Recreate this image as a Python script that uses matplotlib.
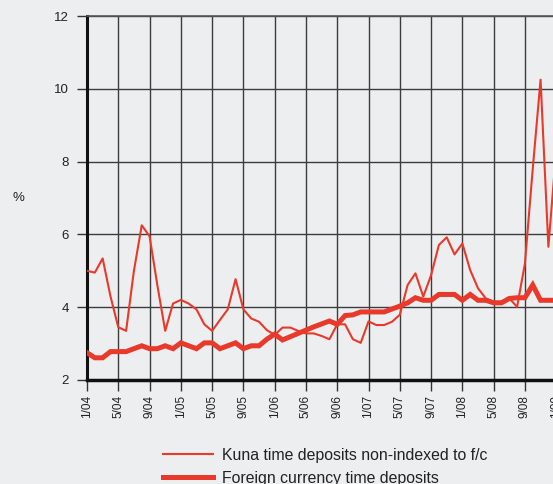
import matplotlib
matplotlib.use("Agg")
import matplotlib.pyplot as plt
import numpy as np

plt.rcParams['font.family'] = ['Liberation Sans', 'DejaVu Sans']

# monthly data from 1/04
kuna = [5.0, 4.95, 5.34, 4.3, 3.45, 3.35, 5.0, 6.25, 5.95, 4.6,
        3.35, 4.1, 4.2, 4.1, 3.94, 3.53, 3.35, 3.65, 3.94, 4.77,
        3.94, 3.69, 3.6, 3.37, 3.24, 3.44, 3.44, 3.35, 3.28, 3.28,
        3.21, 3.12, 3.53, 3.53, 3.12, 3.02, 3.61, 3.51, 3.51, 3.6,
        3.79, 4.61, 4.93, 4.29, 4.88, 5.71, 5.92, 5.45, 5.75, 5.02,
        4.52, 4.24, 4.15, 4.15, 4.24, 4.01, 5.2, 7.8, 10.25, 5.66,
        8.3]
foreign = [2.75, 2.61, 2.61, 2.78, 2.78, 2.78, 2.86, 2.94, 2.86, 2.86,
           2.94, 2.86, 3.02, 2.94, 2.86, 3.02, 3.02, 2.86, 2.94, 3.02,
           2.86, 2.94, 2.94, 3.12, 3.26, 3.1, 3.19, 3.28, 3.37, 3.46,
           3.54, 3.62, 3.53, 3.77, 3.79, 3.87, 3.87, 3.87, 3.87, 3.95,
           4.03, 4.12, 4.26, 4.19, 4.19, 4.35, 4.35, 4.35, 4.19, 4.35,
           4.19, 4.19, 4.12, 4.12, 4.24, 4.26, 4.26, 4.61, 4.19, 4.19,
           4.19]
tick_labels = ["1/04", "5/04", "9/04", "1/05", "5/05", "9/05", "1/06", "5/06",
               "9/06", "1/07", "5/07", "9/07", "1/08", "5/08", "9/08", "1/09"]
yticks = [2, 4, 6, 8, 10, 12]

bg = '#edeef0'
red = '#e8392b'

W, H = 553, 484
fig = plt.figure(figsize=(W / 100, H / 100), dpi=100, facecolor=bg)
# axes run past the right edge (chart is cropped in the reference)
xmax = 62
ax_w = xmax * 7.82
ax = fig.add_axes([87 / W, 1 - 380 / H, ax_w / W, 364 / H], facecolor=bg)

x = np.arange(len(kuna))
ax.plot(x, kuna, color=red, lw=1.5, label='Kuna time deposits non-indexed to f/c', zorder=3)
ax.plot(np.arange(len(foreign)), foreign, color=red, lw=3.6,
        label='Foreign currency time deposits', zorder=4, solid_joinstyle='miter')

ax.set_xlim(0, xmax)
ax.set_ylim(2, 12)
ax.set_xticks(np.arange(len(tick_labels)) * 4)
ax.set_xticklabels(tick_labels, rotation=90, fontsize=8.5, color='#222')
ax.set_yticks(yticks)
ax.set_yticklabels([str(v) for v in yticks], fontsize=9.5, color='#222')
ax.tick_params(axis='x', length=8, width=1, color='#333', pad=3)
ax.tick_params(axis='y', length=7, width=1, color='#333', pad=6)

ax.grid(True, color='#3c3c3c', lw=1.0)
ax.set_axisbelow(True)
ax.spines['right'].set_visible(False)
ax.spines['top'].set_color('#555')
ax.spines['top'].set_linewidth(1.2)
ax.spines['left'].set_linewidth(2.2)
ax.spines['left'].set_color('#111')
ax.spines['bottom'].set_linewidth(2.5)
ax.spines['bottom'].set_color('#111')

fig.text(18 / W, 1 - 198 / H, '%', fontsize=9.5, color='#222', ha='center', va='center')

h, l = ax.get_legend_handles_labels()
fig.legend(h, l, loc='upper left', bbox_to_anchor=(163 / W, 1 - 448 / H),
           frameon=False, fontsize=11.4, handlelength=3.15, handletextpad=0.6,
           borderpad=0, borderaxespad=0, labelspacing=0.5, labelcolor='#222')

fig.savefig('out.png', dpi=100, facecolor=bg)
